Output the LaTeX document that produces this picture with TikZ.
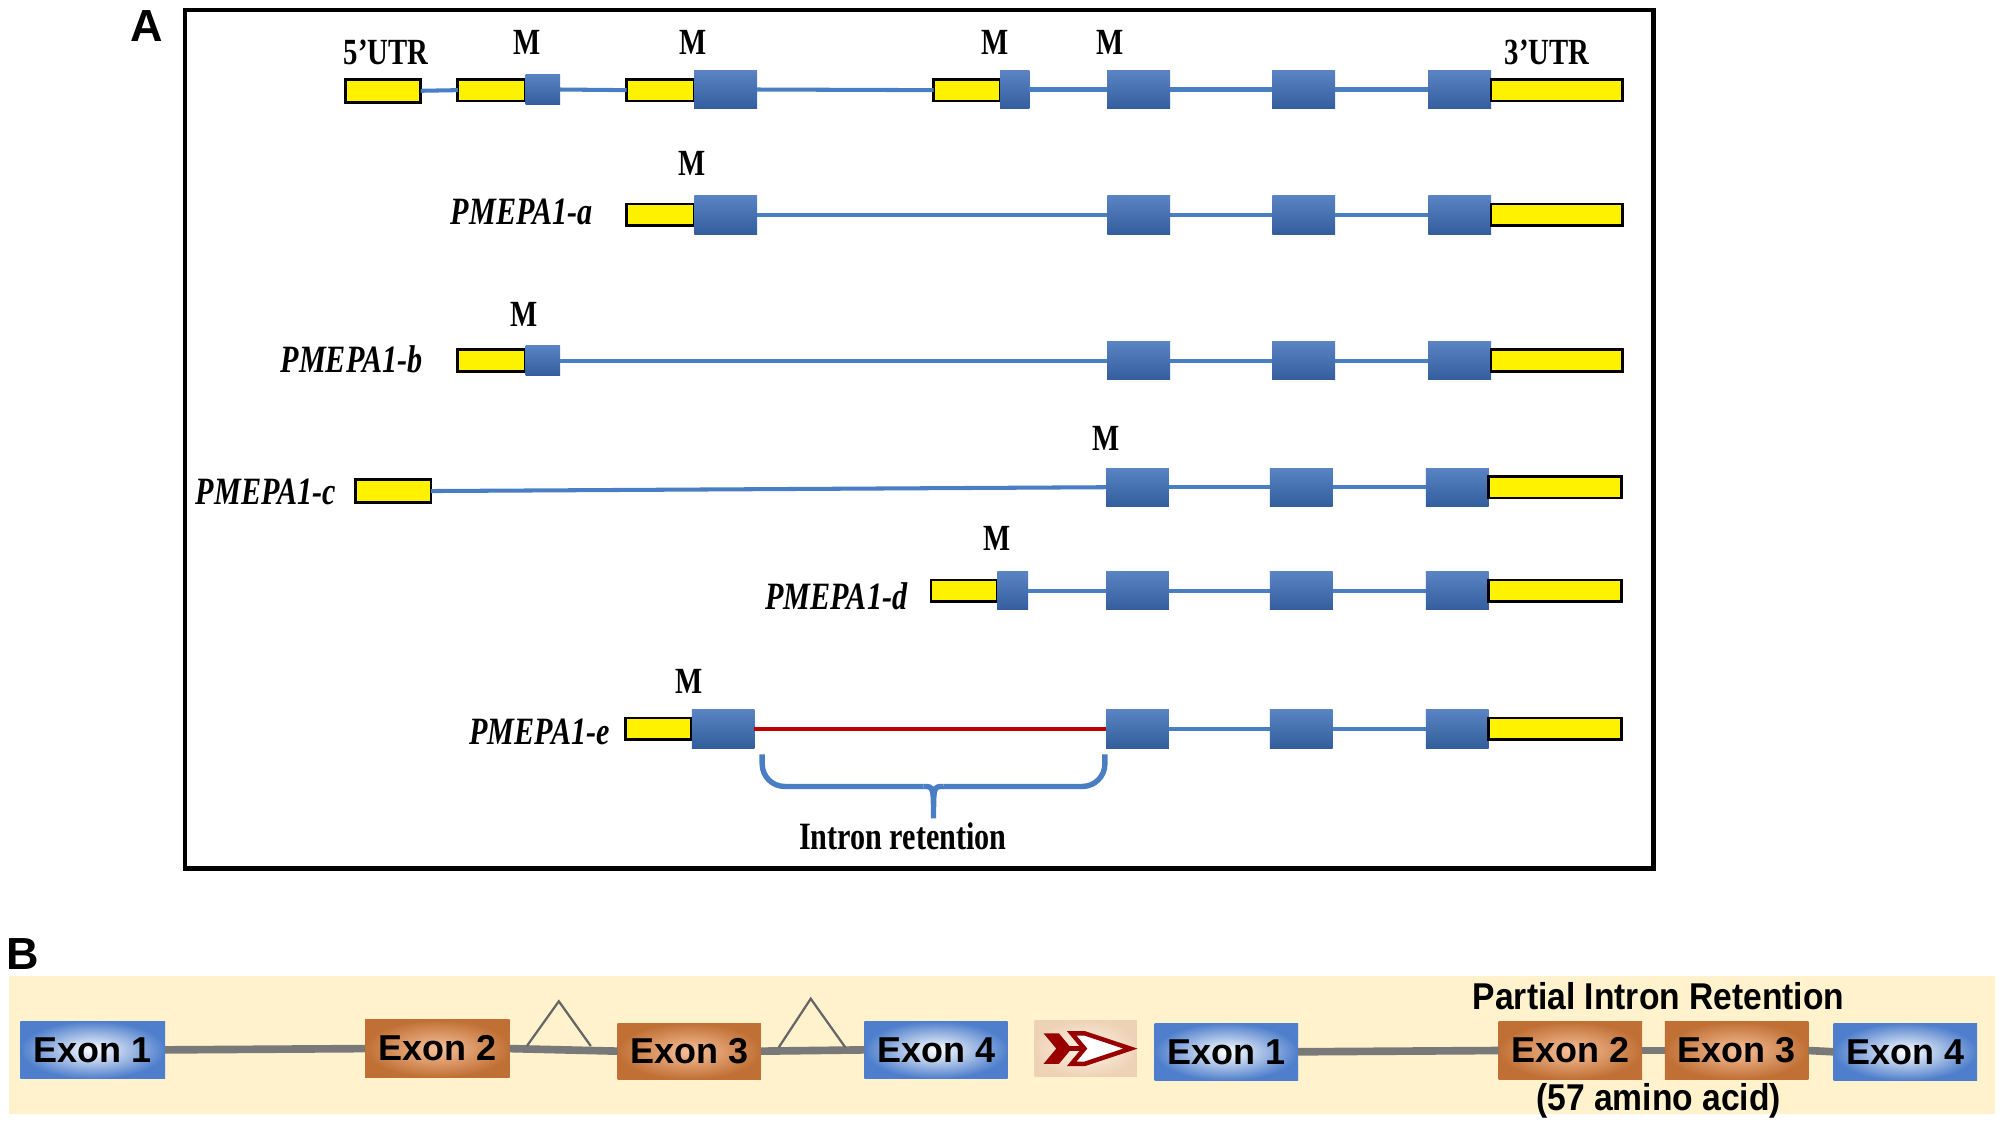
\documentclass[tikz,border=0pt]{standalone}
\usepackage{fontspec}
\setmainfont{Liberation Serif}[FakeStretch=0.78]
\setsansfont{Liberation Sans}
\newfontfamily\narrowsans{Liberation Sans}[FakeStretch=0.9]
\begin{document}
\begin{tikzpicture}[x=0.01cm,y=-0.01cm,
  yex/.style={draw=black,line width=0.6pt,fill=yellow,inner sep=0,outer sep=0},
  bex/.style={draw=none,fill=exblue,inner sep=0,outer sep=0,top color=exblue!85!white,bottom color=exblue!85!black},
  intr/.style={draw=lineblue,line width=0.9pt},
  mlab/.style={font=\bfseries\fontsize{8.2}{9}\selectfont,inner sep=0},
  iso/.style={font=\bfseries\itshape\fontsize{8.6}{9}\selectfont,inner sep=0},
  bbox/.style={inner sep=0,outer sep=0,font=\sffamily\bfseries\fontsize{8}{9}\selectfont},
  bblue/.style={bbox,inner color=white,outer color=bblu},
  borange/.style={bbox,inner color=oralight,outer color=oradark},
  gline/.style={draw=gray!95!black,line width=1.7pt}]
\definecolor{exblue}{HTML}{3C6EB8}
\definecolor{lineblue}{HTML}{4A7EC4}
\definecolor{bblu}{HTML}{4F7FCC}
\definecolor{oralight}{HTML}{F7C09A}
\definecolor{oradark}{HTML}{C07035}
\definecolor{bgyel}{HTML}{FFF2CC}
\newcommand\ex[6]{\node[#1,minimum width={(#4-#3)*0.01cm},minimum height={#6*0.01cm}] (#2) at ({(#3+#4)/2},#5) {};}
\useasboundingbox (0,0) rectangle (1564,882);
% Panel A
\node[font=\sffamily\bfseries\fontsize{10}{10}\selectfont,inner sep=0] (lA) at (115,20) {A};
\node[draw=black,line width=1.1pt,minimum width=11.48cm,minimum height=6.71cm,inner sep=0] (boxA) at (719,343.5) {};
% row 1
\ex{yex}{r1y1}{270}{329}{71}{18}
\ex{yex}{r1y2}{358}{411}{70.5}{17}
\ex{bex}{r1b1}{411}{438}{70}{24}
\ex{yex}{r1y3}{490}{543}{70.5}{17}
\ex{bex}{r1b2}{543}{592}{70}{30}
\ex{yex}{r1y4}{730}{782}{70.5}{17}
\ex{bex}{r1b3}{782}{805}{70}{30}
\ex{bex}{r1b4}{866}{915}{70}{30}
\ex{bex}{r1b5}{995}{1044}{70}{30}
\ex{bex}{r1b6}{1117}{1166}{70}{30}
\ex{yex}{r1y5}{1166}{1269}{70.5}{17}
\draw[intr] (r1y1.east) -- (r1y2.west);
\draw[intr] (r1b1.east) -- (r1y3.west);
\draw[intr] (r1b2.east) -- (r1y4.west);
\draw[intr] (r1b3.east) -- (r1b4.west);
\draw[intr] (r1b4.east) -- (r1b5.west);
\draw[intr] (r1b5.east) -- (r1b6.west);
\node[mlab] (t5) at (302,41) {5’UTR};
\node[mlab] (m1) at (412,33) {M};
\node[mlab] (m2) at (542,33) {M};
\node[mlab] (m3) at (778,33) {M};
\node[mlab] (m4) at (868,33) {M};
\node[mlab] (t3) at (1210,41) {3’UTR};
% row a
\node[iso] (la) at (408,166) {PMEPA1-a};
\node[mlab] (ma) at (541,128) {M};
\ex{yex}{ay1}{490}{543}{168}{17}
\ex{bex}{ab1}{543}{592}{168}{30}
\ex{bex}{ab2}{866}{915}{168}{30}
\ex{bex}{ab3}{995}{1044}{168}{30}
\ex{bex}{ab4}{1117}{1166}{168}{30}
\ex{yex}{ay2}{1166}{1269}{168}{17}
\draw[intr] (ab1.east) -- (ab2.west);
\draw[intr] (ab2.east) -- (ab3.west);
\draw[intr] (ab3.east) -- (ab4.west);
% row b
\node[iso] (lb) at (275,281) {PMEPA1-b};
\node[mlab] (mb) at (410,246) {M};
\ex{yex}{by1}{358}{411}{282}{17}
\ex{bex}{bb1}{411}{438}{282}{24}
\ex{bex}{bb2}{866}{915}{282}{30}
\ex{bex}{bb3}{995}{1044}{282}{30}
\ex{bex}{bb4}{1117}{1166}{282}{30}
\ex{yex}{by2}{1166}{1269}{282}{17}
\draw[intr] (bb1.east) -- (bb2.west);
\draw[intr] (bb2.east) -- (bb3.west);
\draw[intr] (bb3.east) -- (bb4.west);
% row c
\node[iso] (lc) at (208,385) {PMEPA1-c};
\node[mlab] (mc) at (865,343) {M};
\ex{yex}{cy1}{278}{337}{384}{18}
\ex{bex}{cb2}{865}{914}{381}{30}
\ex{bex}{cb3}{993}{1042}{381}{30}
\ex{bex}{cb4}{1115}{1164}{381}{30}
\ex{yex}{cy2}{1164}{1268}{381}{17}
\draw[intr] (cy1.east) -- (cb2.west);
\draw[intr] (cb2.east) -- (cb3.west);
\draw[intr] (cb3.east) -- (cb4.west);
% row d
\node[iso] (ld) at (654,466) {PMEPA1-d};
\node[mlab] (md) at (780,421) {M};
\ex{yex}{dy1}{728}{780}{462}{17}
\ex{bex}{db1}{780}{804}{462}{30}
\ex{bex}{db2}{865}{914}{462}{30}
\ex{bex}{db3}{993}{1042}{462}{30}
\ex{bex}{db4}{1115}{1164}{462}{30}
\ex{yex}{dy2}{1164}{1268}{462}{17}
\draw[intr] (db1.east) -- (db2.west);
\draw[intr] (db2.east) -- (db3.west);
\draw[intr] (db3.east) -- (db4.west);
% row e
\node[iso] (le) at (422,572) {PMEPA1-e};
\node[mlab] (me) at (539,533) {M};
\ex{yex}{ey1}{489}{541}{570}{17}
\ex{bex}{eb1}{541}{590}{570}{30}
\ex{bex}{eb2}{865}{914}{570}{30}
\ex{bex}{eb3}{993}{1042}{570}{30}
\ex{bex}{eb4}{1115}{1164}{570}{30}
\ex{yex}{ey2}{1164}{1268}{570}{17}
\draw[draw=red!75!black,line width=0.9pt] (eb1.east) -- (eb2.west);
\draw[intr] (eb2.east) -- (eb3.west);
\draw[intr] (eb3.east) -- (eb4.west);
% brace
\coordinate (br1) at (596,590);
\coordinate (br2) at (864,590);
\coordinate (brt) at (730,640);
\draw[draw=lineblue,line width=1.2pt,rounded corners=5] (br1) -- (596,615) -- (722,615);
\draw[draw=lineblue,line width=1.2pt,rounded corners=5] (br2) -- (864,615) -- (738,615);
\draw[draw=lineblue,line width=1.2pt] (722,615) .. controls (730,615) .. (brt) .. controls (730,615) .. (738,615);
\node[mlab,font=\bfseries\fontsize{8.6}{9}\selectfont] (ir) at (706,654) {Intron retention};
% Panel B
\node[font=\sffamily\bfseries\fontsize{10}{10}\selectfont,inner sep=0] (lB) at (18,746) {B};
\fill[bgyel] (7,763) rectangle (1560,871);
\node[bblue,minimum width=1.13cm,minimum height=0.45cm] (e1) at (72.5,821) {Exon 1};
\node[borange,minimum width=1.13cm,minimum height=0.45cm] (e2) at (342,820) {Exon 2};
\node[borange,minimum width=1.12cm,minimum height=0.44cm] (e3) at (539,822) {Exon 3};
\node[bblue,minimum width=1.12cm,minimum height=0.45cm] (e4) at (732,821) {Exon 4};
\draw[gline] (e1.east) -- (e2.west);
\draw[gline] (e2.east) -- (e3.west);
\draw[gline] (e3.east) -- (e4.west);
\coordinate (ta) at (437,783);
\coordinate (tb) at (634,781);
\draw[gray!80!black,line width=0.5pt] (412,818) -- (ta) -- (462,818);
\draw[gray!80!black,line width=0.5pt] (609,819) -- (tb) -- (661,819);
% arrow icon
\node[inner sep=0,minimum width=0.8cm,minimum height=0.44cm,inner color=white!70!orange!30,outer color=orange!25!brown!35] (icon) at (849,820) {};
\fill[red!60!black] (816,808) -- (828,808) -- (838,820) -- (828,832) -- (816,832) -- (826,820) -- cycle;
\draw[red!60!black,line width=1pt,fill=white] (838,808) -- (848,808) -- (884,820) -- (848,832) -- (838,832) -- (848,820) -- cycle;
\draw[red!60!black,line width=1pt] (826,820) -- (848,820);
% right side
\node[bblue,minimum width=1.12cm,minimum height=0.45cm] (f1) at (959,822.5) {Exon 1};
\node[borange,minimum width=1.12cm,minimum height=0.45cm] (f2) at (1228,821.5) {Exon 2};
\node[borange,minimum width=1.12cm,minimum height=0.45cm] (f3) at (1358,821.5) {Exon 3};
\node[bblue,minimum width=1.12cm,minimum height=0.45cm] (f4) at (1490,822.5) {Exon 4};
\draw[gline] (f1.east) -- (f2.west);
\draw[gline] (f2.east) -- (f3.west);
\draw[gline] (f3.east) -- (f4.west);
\node[bbox,font=\narrowsans\bfseries\fontsize{8.3}{9}\selectfont] (pir) at (1297,779) {Partial Intron Retention};
\node[bbox,font=\narrowsans\bfseries\fontsize{8.3}{9}\selectfont] (aa) at (1297,861) {(57 amino acid)};
\end{tikzpicture}
\end{document}
